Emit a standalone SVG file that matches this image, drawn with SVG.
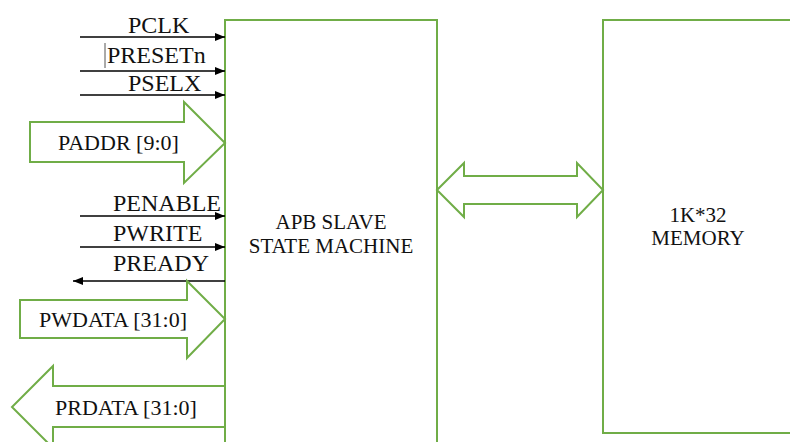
<svg xmlns="http://www.w3.org/2000/svg" width="790" height="442" viewBox="0 0 790 442">
<style>
.g{fill:#fff;stroke:#70AD47;stroke-width:2}
.s{stroke:#000;stroke-width:1.3;fill:none}
text{font-family:'Liberation Serif',serif;fill:#111}
.sig{font-size:24px}
.bus{font-size:22px}
.lab{font-size:21px;text-anchor:middle}
</style>
<defs>
<marker id="ah" viewBox="0 0 10 8" refX="10" refY="4" markerWidth="10" markerHeight="8" markerUnits="userSpaceOnUse" orient="auto">
<path d="M0,0 L10,4 L0,8 Z" fill="#000"/>
</marker>
</defs>
<rect width="790" height="442" fill="#fff"/>
<g id="apb-slave">
<rect class="g" x="225" y="20" width="212" height="440"/>
<text class="lab" x="331" y="229">APB SLAVE</text>
<text class="lab" x="331" y="253">STATE MACHINE</text>
</g>
<g id="memory">
<rect class="g" x="603" y="20" width="200" height="413"/>
<text class="lab" x="698" y="222" font-size="22">1K*32</text>
<text class="lab" x="698" y="245" font-size="22">MEMORY</text>
</g>
<g id="connectors">
<line class="s" x1="80" y1="37" x2="225" y2="37" marker-end="url(#ah)"/>
<line class="s" x1="80" y1="71" x2="225" y2="71" marker-end="url(#ah)"/>
<line class="s" x1="80" y1="95" x2="225" y2="95" marker-end="url(#ah)"/>
<line class="s" x1="80" y1="216" x2="225" y2="216" marker-end="url(#ah)"/>
<line class="s" x1="80" y1="247" x2="225" y2="247" marker-end="url(#ah)"/>
<line class="s" x1="225" y1="281" x2="73" y2="281" marker-end="url(#ah)"/>
<polygon id="paddr" class="g" points="30,122 184,122 184,102 225,143 184,183 184,162 30,162"/>
<polygon id="pwdata" class="g" points="20,300 187,300 187,281 225,319 187,358 187,338 20,338"/>
<polygon id="prdata" class="g" points="225,386 53,386 53,366 12,407 53,448 53,427 225,427"/>
<polygon id="bus" class="g" points="437,190 464,163 464,176 577,176 577,163 603,190 577,217 577,204 464,204 464,217"/>
</g>
<g id="labels">
<text class="sig" x="128" y="33">PCLK</text>
<line x1="105" y1="43" x2="105" y2="68" stroke="#555" stroke-width="1"/>
<text class="sig" x="107" y="63">PRESETn</text>
<text class="sig" x="128" y="91">PSELX</text>
<text class="sig" x="113" y="211">PENABLE</text>
<text class="sig" x="113" y="241">PWRITE</text>
<text class="sig" x="113" y="271">PREADY</text>
<text class="bus" x="58" y="150">PADDR [9:0]</text>
<text class="bus" x="39" y="327">PWDATA [31:0]</text>
<text class="bus" x="55" y="415">PRDATA [31:0]</text>
</g>
</svg>
